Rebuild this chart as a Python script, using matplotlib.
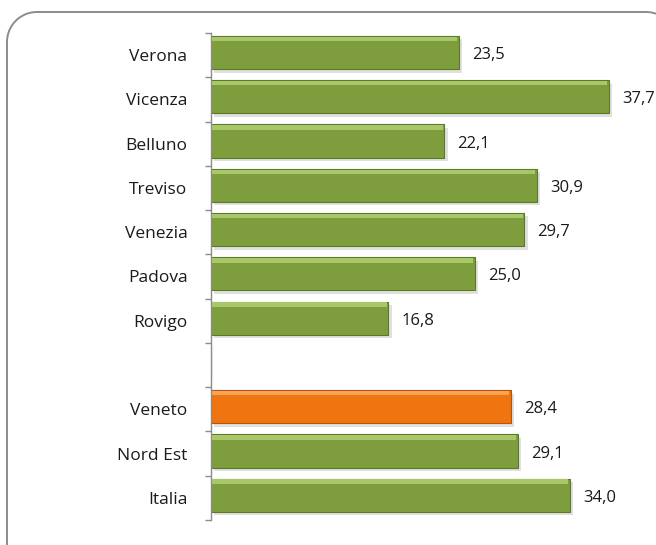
import matplotlib
matplotlib.use("Agg")
import matplotlib.pyplot as plt
import numpy as np
from matplotlib.lines import Line2D
import matplotlib.transforms as mtransforms

categories = ["Verona", "Vicenza", "Belluno", "Treviso", "Venezia", "Padova", "Rovigo",
              "", "Veneto", "Nord Est", "Italia"]
values = [23.5, 37.7, 22.1, 30.9, 29.7, 25.0, 16.8, np.nan, 28.4, 29.1, 34.0]
highlight = "Veneto"

plt.rcParams['font.family'] = ['Open Sans', 'DejaVu Sans']

W, H = 656, 545
fig = plt.figure(figsize=(W/100, H/100), dpi=100)
fig.patch.set_facecolor("white")

# rounded frame, built in pixel coords (top-left origin), partly outside the figure
def rounded_frame(x0, y0, x1, y1, r):
    pts = []
    def arc(cx, cy, a0, a1):
        t = np.linspace(np.radians(a0), np.radians(a1), 30)
        return list(zip(cx + r*np.cos(t), cy + r*np.sin(t)))
    # screen coords with y downward: use angles accordingly
    pts += arc(x0 + r, y0 + r, 180, 270)      # top-left
    pts += arc(x1 - r, y0 + r, 270, 360)      # top-right
    pts += arc(x1 - r, y1 - r, 0, 90)         # bottom-right
    pts += arc(x0 + r, y1 - r, 90, 180)       # bottom-left
    pts.append(pts[0])
    xs = np.array([p[0] for p in pts]) / W
    ys = 1 - np.array([p[1] for p in pts]) / H
    return xs, ys

fx, fy = rounded_frame(7, 12, 676, 580, 30)
fig.add_artist(Line2D(fx, fy, transform=fig.transFigure, color="#8c8c8c", lw=1.4))

ax = fig.add_axes([211/W, 1-520/H, 422/W, 487/H])
ax.set_facecolor("none")

n = len(categories)
y = np.arange(n)
yb = y - 0.06
vals = np.array(values, dtype=float)
plot_vals = np.nan_to_num(vals)
green = "#7e9d3c"
orange = "#f0740f"
colors = [orange if c == highlight else green for c in categories]
edge = ["#b85308" if c == highlight else "#5b7a26" for c in categories]
light = ["#f9a455" if c == highlight else "#a9c66a" for c in categories]

h = 0.75
# shadow
shadow = mtransforms.offset_copy(ax.transData, fig=fig, x=2.5, y=-2.5, units="points")
for yi, v in zip(yb, plot_vals):
    if v > 0:
        ax.barh(yi, v, height=h, color="#000000", alpha=0.12, transform=shadow, zorder=1)
bars = ax.barh(yb, plot_vals, height=h, color=colors, edgecolor=edge, linewidth=0.8, zorder=2)
# bevel highlight along top
for yi, v, lc in zip(yb, plot_vals, light):
    if v > 0:
        ax.barh(yi - h/2 + 0.07, v - 0.25, left=0.1, height=0.1, color=lc, linewidth=0, zorder=3)

for yi, v in zip(y, vals):
    if not np.isnan(v):
        ax.annotate(f"{v:.1f}".replace(".", ","), (v, yi), xytext=(9.5, 0),
                    textcoords="offset points", va="center", ha="left",
                    fontsize=12, color="#1a1a1a")

ax.set_xlim(0, 40)
ax.set_ylim(n - 0.5, -0.5)
for s in ["top", "right", "bottom"]:
    ax.spines[s].set_visible(False)
ax.spines["left"].set_color("#8c8c8c")
ax.spines["left"].set_linewidth(1.0)
ax.set_xticks([])
ax.set_yticks(np.arange(-0.5, n, 1.0))
ax.set_yticklabels([])
ax.tick_params(axis="y", which="major", length=4, color="#8c8c8c", width=1.0, direction="out")
ax.set_yticks(y, minor=True)
ax.set_yticklabels(categories, minor=True, fontsize=12.5, color="#1a1a1a")
ax.tick_params(axis="y", which="minor", length=0, pad=17)

fig.savefig("out.png", dpi=100)
